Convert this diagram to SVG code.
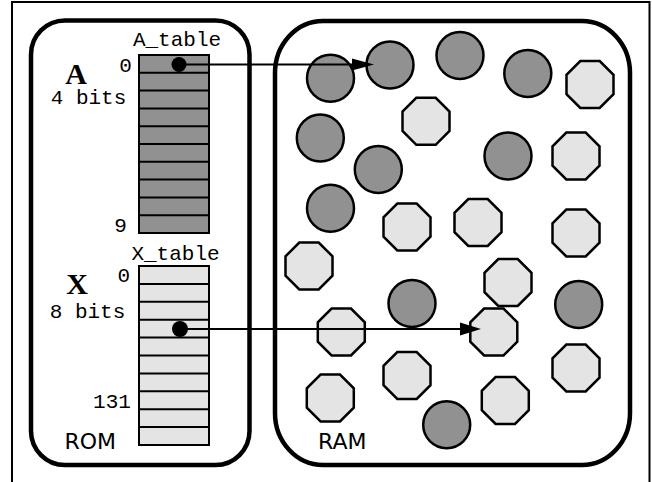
<svg xmlns="http://www.w3.org/2000/svg" xmlns:xlink="http://www.w3.org/1999/xlink" width="652" height="482" viewBox="0 0 652 482">
<style>
.box{fill:none;stroke:#000;stroke-width:4.5}
.dark{fill:#919191;stroke:#000;stroke-width:2.5}
.light{fill:#e4e4e4;stroke:#000;stroke-width:2.5}
.tbl{stroke:#000;stroke-width:2}
.rows{fill:none;stroke:#000;stroke-width:2}
.mono{font-family:"Liberation Mono","Courier New",monospace;font-size:21px;fill:#000;text-anchor:middle}
.big{font-family:"Liberation Serif","Times New Roman",serif;font-size:30px;font-weight:bold;fill:#000;text-anchor:middle}
.sans{font-family:"DejaVu Sans","Verdana",sans-serif;font-size:22px;fill:#000}
.conn{stroke:#000;stroke-width:2;fill:none}
</style>
<defs>
<polygon id="oct" points="-9.7,-23.5 9.7,-23.5 23.5,-9.7 23.5,9.7 9.7,23.5 -9.7,23.5 -23.5,9.7 -23.5,-9.7"/>
</defs>
<rect x="0" y="0" width="652" height="482" fill="#fff"/>
<rect x="12" y="2" width="637.5" height="520" fill="none" stroke="#000" stroke-width="2"/>

<g id="rom">
<rect class="box" x="31" y="20.5" width="218.5" height="444.5" rx="34" ry="34"/>
<text class="sans" x="64.5" y="449.3">ROM</text>
</g>
<g id="ram">
<rect class="box" x="275" y="21" width="355" height="444" rx="48" ry="52"/>
<text class="sans" x="318" y="449.3">RAM</text>
</g>

<g id="a_table">
<rect class="tbl" x="139" y="55" width="70" height="178" fill="#919191"/>
<path class="rows" d="M139 72.8H209M139 90.6H209M139 108.4H209M139 126.2H209M139 144H209M139 161.8H209M139 179.6H209M139 197.4H209M139 215.2H209"/>
<text class="mono" x="177" y="46">A_table</text>
<text class="mono" x="125.5" y="72">0</text>
<text class="mono" x="120.5" y="231.7">9</text>
<text class="big" x="76" y="84">A</text>
<text class="mono" x="88.5" y="104">4 bits</text>
<circle cx="179" cy="64.5" r="7.5" fill="#000"/>
</g>

<g id="x_table">
<rect class="tbl" x="139" y="266" width="70" height="179" fill="#e4e4e4"/>
<path class="rows" d="M139 283.9H209M139 301.8H209M139 319.7H209M139 337.6H209M139 355.5H209M139 373.4H209M139 391.3H209M139 409.2H209M139 427.1H209"/>
<text class="mono" x="175.5" y="259.5">X_table</text>
<text class="mono" x="123.7" y="281.7">0</text>
<text class="mono" x="112" y="408.3">131</text>
<text class="big" x="77" y="293.5">X</text>
<text class="mono" x="87.5" y="318.3">8 bits</text>
<circle cx="180" cy="329" r="8" fill="#000"/>
</g>

<g id="ram-items">
<g id="c1"><circle class="dark" cx="330.5" cy="78.3" r="23.5"/></g>
<g id="c2"><circle class="dark" cx="390" cy="65" r="23.5"/></g>
<g id="c3"><circle class="dark" cx="460" cy="55.5" r="23.5"/></g>
<g id="c4"><circle class="dark" cx="527.8" cy="73.5" r="23.5"/></g>
<g id="c5"><circle class="dark" cx="320.3" cy="138" r="23.5"/></g>
<g id="c6"><circle class="dark" cx="378.3" cy="169.5" r="23.5"/></g>
<g id="c7"><circle class="dark" cx="508" cy="156" r="23.5"/></g>
<g id="c8"><circle class="dark" cx="330.5" cy="208.3" r="23.5"/></g>
<g id="c9"><circle class="dark" cx="412" cy="303.5" r="23.5"/></g>
<g id="c10"><circle class="dark" cx="578.7" cy="304.5" r="23.5"/></g>
<g id="c11"><circle class="dark" cx="446.7" cy="424.7" r="23.5"/></g>

<g id="o1"><use xlink:href="#oct" class="light" x="590" y="84.5"/></g>
<g id="o2"><use xlink:href="#oct" class="light" x="426" y="121.3"/></g>
<g id="o3"><use xlink:href="#oct" class="light" x="576" y="156"/></g>
<g id="o4"><use xlink:href="#oct" class="light" x="407" y="227"/></g>
<g id="o5"><use xlink:href="#oct" class="light" x="478" y="222.5"/></g>
<g id="o6"><use xlink:href="#oct" class="light" x="576" y="233"/></g>
<g id="o7"><use xlink:href="#oct" class="light" x="309" y="266"/></g>
<g id="o8"><use xlink:href="#oct" class="light" x="508" y="282.5"/></g>
<g id="o9"><use xlink:href="#oct" class="light" x="341.3" y="332"/></g>
<g id="o10"><use xlink:href="#oct" class="light" x="493.8" y="332"/></g>
<g id="o11"><use xlink:href="#oct" class="light" x="576" y="368"/></g>
<g id="o12"><use xlink:href="#oct" class="light" x="407" y="375.5"/></g>
<g id="o13"><use xlink:href="#oct" class="light" x="330.3" y="398"/></g>
<g id="o14"><use xlink:href="#oct" class="light" x="505.3" y="400.5"/></g>
</g>

<g id="connectors">
<path class="conn" d="M179 64.5H354"/>
<polygon points="352,58.5 374,64.5 352,70.5" fill="#000"/>
<path class="conn" d="M180 329H462"/>
<polygon points="460,322.5 481,329 460,335.5" fill="#000"/>
</g>
</svg>
